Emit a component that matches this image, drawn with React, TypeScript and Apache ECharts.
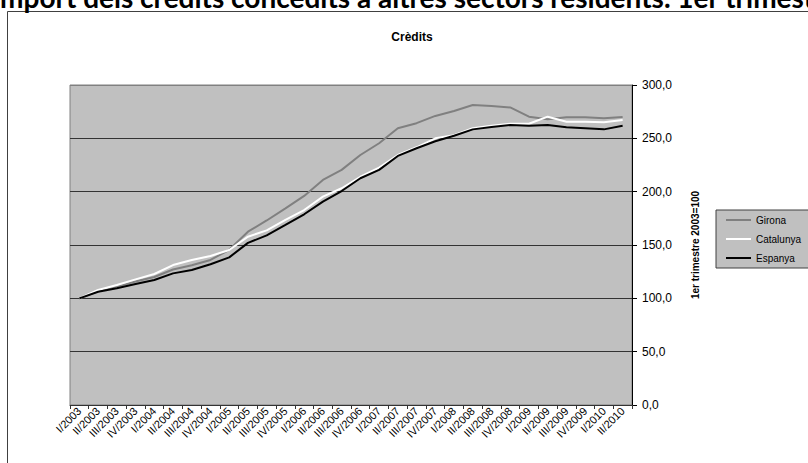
import React, { useEffect, useRef } from "react";
import * as echarts from "echarts";

const categories = [
  "I/2003", "II/2003", "III/2003", "IV/2003",
  "I/2004", "II/2004", "III/2004", "IV/2004",
  "I/2005", "II/2005", "III/2005", "IV/2005",
  "I/2006", "II/2006", "III/2006", "IV/2006",
  "I/2007", "II/2007", "III/2007", "IV/2007",
  "I/2008", "II/2008", "III/2008", "IV/2008",
  "I/2009", "II/2009", "III/2009", "IV/2009",
  "I/2010", "II/2010",
];

const girona = [100, 106.5, 111, 115.7, 120, 127, 131, 136, 145.5, 162.5, 173, 184.4, 196, 211, 220.4, 234.4, 245.4, 259.5, 264.2, 271, 275.6, 281.2, 280.3, 279, 270.3, 267.8, 269.7, 269.7, 268.8, 270];
const catalunya = [100, 107.8, 112.5, 117.8, 122.8, 131.2, 136, 139.7, 145.3, 157.8, 163.7, 173.5, 182.8, 195.3, 203.2, 214, 222.6, 234.4, 241.6, 250, 253, 259.4, 261.8, 263.7, 263.7, 270.3, 265.6, 265.6, 265, 267.2];
const espanya = [100, 106.2, 109.4, 113.4, 117.2, 123.4, 126.5, 132, 138.4, 152, 159, 168.8, 178.8, 190.6, 200.6, 212.6, 220.4, 233.5, 240.7, 247.3, 252.4, 258.4, 260.6, 262.5, 261.8, 262.5, 260.3, 259.4, 258.4, 261.8];

const seriesNames = ["Girona", "Catalunya", "Espanya"];
const seriesColors = ["#808080", "#FFFFFF", "#000000"];

const mainTitle = "Import dels crèdits concedits a altres sectors residents. 1er trimestre 2003=100";
const chartTitle = "Crèdits";
const yAxisName = "1er trimestre 2003=100";

const FONT = "'Liberation Sans', Arial, sans-serif";

export default function App() {
  const ref = useRef<HTMLDivElement>(null);
  useEffect(() => {
    if (!ref.current) return;
    const chart = echarts.init(ref.current, undefined, { renderer: "svg" });
    const seriesData = [girona, catalunya, espanya];
    chart.setOption({
      animation: false,
      backgroundColor: "#FFFFFF",
      textStyle: { fontFamily: FONT },
      graphic: [
        {
          type: "rect",
          shape: { x: 7.5, y: 11.5, width: 900, height: 600 },
          style: { fill: "none", stroke: "#404040", lineWidth: 1 },
          z: -1,
        },
        {
          type: "text",
          x: -8,
          y: -17,
          style: {
            text: mainTitle,
            font: "bold 28px Lato",
            fill: "#000000",
            verticalAlign: "top",
          },
        },
        {
          type: "text",
          x: 412,
          y: 37,
          style: {
            text: chartTitle,
            font: `bold 12px ${FONT}`,
            fill: "#000000",
            align: "center",
            verticalAlign: "middle",
          },
        },
      ],
      grid: {
        left: 70,
        right: 176,
        top: 85,
        bottom: 58,
        show: true,
        backgroundColor: "#C0C0C0",
        borderColor: "#808080",
        borderWidth: 1,
      },
      legend: {
        orient: "vertical",
        left: 716,
        top: 210,
        data: seriesNames.map((n) => ({ name: n, icon: "rect" })),
        itemWidth: 25,
        itemHeight: 2,
        itemGap: 7,
        itemTextGap: 2,
        padding: [4, 9, 4, 10],
        backgroundColor: "#C0C0C0",
        borderColor: "#404040",
        borderWidth: 1,
        borderRadius: 0,
        textStyle: { fontFamily: FONT, fontSize: 10, color: "#000000", lineHeight: 12 },
      },
      xAxis: {
        type: "category",
        data: categories,
        boundaryGap: true,
        axisLine: { lineStyle: { color: "#333333", width: 1 } },
        axisTick: { show: true, length: 4, lineStyle: { color: "#333333" } },
        axisLabel: {
          interval: 0,
          rotate: 45,
          margin: 4,
          fontSize: 11,
          color: "#000000",
          fontFamily: FONT,
        },
        splitLine: { show: false },
      },
      yAxis: {
        type: "value",
        position: "right",
        min: 0,
        max: 300,
        interval: 50,
        name: yAxisName,
        nameLocation: "middle",
        nameGap: 58,
        nameRotate: 90,
        nameTextStyle: { fontFamily: FONT, fontSize: 10, fontWeight: "bold", color: "#000000" },
        axisLine: { show: true, lineStyle: { color: "#000000", width: 1 } },
        axisTick: { show: true, inside: false, length: 5, lineStyle: { color: "#000000" } },
        axisLabel: {
          margin: 10,
          fontSize: 12,
          color: "#000000",
          fontFamily: FONT,
          formatter: (v: number) => v.toFixed(1).replace(".", ","),
        },
        splitLine: {
          show: true,
          lineStyle: {
            color: ["#333333", "#333333", "#333333", "#333333", "#333333", "#333333", "#808080"],
            width: 1,
          },
        },
      },
      series: seriesNames.map((name, i) => ({
        name,
        type: "line",
        data: seriesData[i],
        showSymbol: false,
        symbol: "none",
        lineStyle: { color: seriesColors[i], width: 2 },
        itemStyle: { color: seriesColors[i] },
      })),
    });
    return () => chart.dispose();
  }, []);
  return (
    <div
      ref={ref}
      style={{ position: "fixed", left: 0, top: 0, width: 808, height: 463 }}
    />
  );
}
